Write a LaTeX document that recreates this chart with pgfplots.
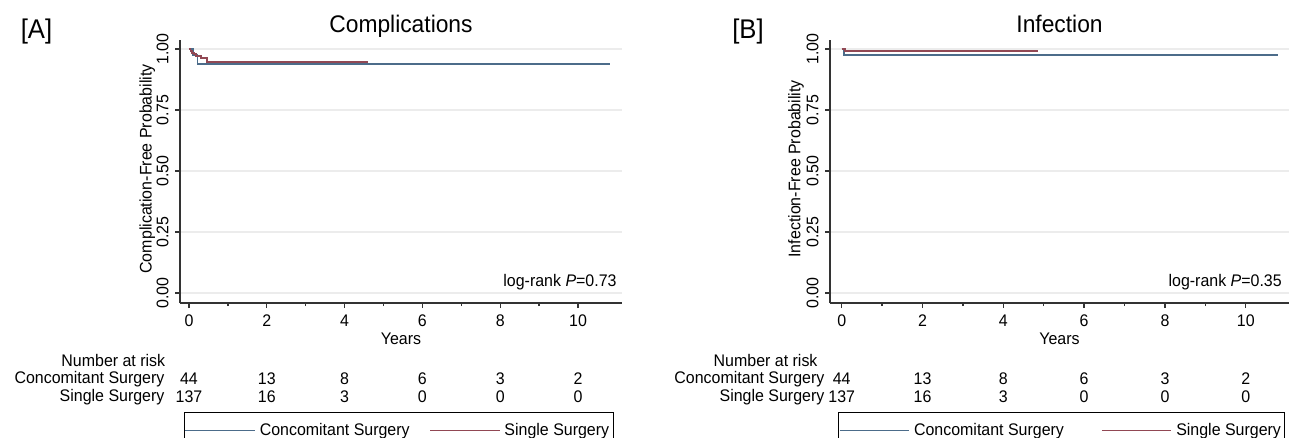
\documentclass[border=0pt]{standalone}
\usepackage{pgfplots}
\pgfplotsset{compat=1.18}
\usepackage{fontspec}
\setmainfont{Liberation Sans}[FakeStretch=0.95]
\definecolor{kmblue}{RGB}{76,108,138}
\definecolor{kmred}{RGB}{145,72,84}
\definecolor{gridc}{RGB}{236,236,236}
\newcommand{\sm}{\fontsize{8.4}{10}\selectfont}
\newcommand{\tf}{\fontsize{12}{14}\selectfont}
\pgfplotsset{
 kmaxis/.style={
  scale only axis,
  height=131.5pt,
  ymin=-0.041, ymax=1.037,
  axis x line*=bottom, axis y line*=left,
  axis line style={black!80, line width=0.8pt},
  every tick/.style={black!80, line width=0.7pt},
  tick align=outside,
  major tick length=2.5pt, minor tick length=1.5pt,
  xtick={0,2,4,6,8,10}, minor xtick={1,3,5,7,9},
  ytick={0,0.25,0.5,0.75,1}, yticklabels={0.00,0.25,0.50,0.75,1.00},
  yticklabel style={rotate=90, anchor=south, inner xsep=1pt, inner ysep=3pt},
  ymajorgrids, major grid style={gridc, line width=0.7pt},
  /pgf/number format/assume math mode=true,
  tick label style={font=\sm},
  label style={font=\sm},
  xlabel={Years},
  xlabel style={at={(axis description cs:0.5,-0.137)}, anchor=center},
  ylabel style={at={(axis description cs:-0.074,0.51)}, anchor=center},
  clip=false,
  legend columns=2,
  legend style={draw=black, line width=0.5pt, fill=white, font=\sm,
    inner xsep=0pt, inner ysep=3pt, anchor=north west},
  legend image code/.code={\path (-4pt,0pt) -- (30.75pt,0pt);\draw[#1] (0pt,0pt) -- (28pt,0pt);},
 }
}
\newcommand{\risk}[3]{%
  \node[font=\sm] at (axis cs:#1,-0.352) {#2};
  \node[font=\sm] at (axis cs:#1,-0.426) {#3};}
\begin{document}
\begin{tikzpicture}
% ---------------- Panel A
\begin{axis}[kmaxis, at={(90pt,-151.5pt)}, anchor=south west,
  width=221pt, xmin=-0.23, xmax=11.13,
  ylabel={Complication-Free Probability},
  legend style={at={(axis description cs:0.009,-0.416)},
    /tikz/every even column/.append style={column sep=7.75pt}}]
\addplot[const plot, kmblue, line width=0.9pt] coordinates {
 (0,1) (0.11,0.977) (0.22,0.937) (10.82,0.937)};
\addlegendentry{Concomitant Surgery}
\addplot[const plot, kmred, line width=0.9pt] coordinates {
 (0,1) (0.04,0.993) (0.08,0.985) (0.13,0.978) (0.19,0.970) (0.30,0.962) (0.46,0.946) (4.61,0.946)};
\addlegendentry{Single Surgery}
\node[font=\tf, anchor=base] at (axis description cs:0.5,1.027) {Complications};
\node[anchor=east, inner sep=0pt, font=\sm] at (axis cs:11.0,0.045) {log-rank \textit{P}=0.73};
\node[anchor=east, inner sep=0pt, font=\sm] at (axis cs:-0.60,-0.275) {Number at risk};
\node[anchor=east, inner sep=0pt, font=\sm] at (axis cs:-0.62,-0.352) {Concomitant Surgery};
\node[anchor=east, inner sep=0pt, font=\sm] at (axis cs:-0.62,-0.426) {Single Surgery};
\risk{0}{44}{137}\risk{2}{13}{16}\risk{4}{8}{3}\risk{6}{6}{0}\risk{8}{3}{0}\risk{10}{2}{0}
\end{axis}
\node[font=\fontsize{13.5}{15}\selectfont] at (18.25pt,-16pt) {[A]};
% ---------------- Panel B
\begin{axis}[kmaxis, at={(415pt,-151.5pt)}, anchor=south west,
  width=229.5pt, xmin=-0.29, xmax=11.07,
  ylabel={Infection-Free Probability},
  legend style={at={(axis description cs:0.018,-0.416)},
    /tikz/every even column/.append style={column sep=16.5pt}}]
\addplot[const plot, kmblue, line width=0.9pt] coordinates {
 (0,1) (0.05,0.976) (10.8,0.976)};
\addlegendentry{Concomitant Surgery}
\addplot[const plot, kmred, line width=0.9pt] coordinates {
 (0,1) (0.08,0.993) (4.86,0.993)};
\addlegendentry{Single Surgery}
\node[font=\tf, anchor=base] at (axis description cs:0.5,1.027) {Infection};
\node[anchor=east, inner sep=0pt, font=\sm] at (axis cs:10.9,0.045) {log-rank \textit{P}=0.35};
\node[anchor=east, inner sep=0pt, font=\sm] at (axis cs:-0.59,-0.275) {Number at risk};
\node[anchor=east, inner sep=0pt, font=\sm] at (axis cs:-0.42,-0.352) {Concomitant Surgery};
\node[anchor=east, inner sep=0pt, font=\sm] at (axis cs:-0.42,-0.426) {Single Surgery};
\risk{0}{44}{137}\risk{2}{13}{16}\risk{4}{8}{3}\risk{6}{6}{0}\risk{8}{3}{0}\risk{10}{2}{0}
\end{axis}
\node[font=\fontsize{13.5}{15}\selectfont] at (374pt,-16pt) {[B]};
\pgfresetboundingbox
\path (0pt,0pt) rectangle (644.5pt,-219pt);
\end{tikzpicture}
\end{document}
